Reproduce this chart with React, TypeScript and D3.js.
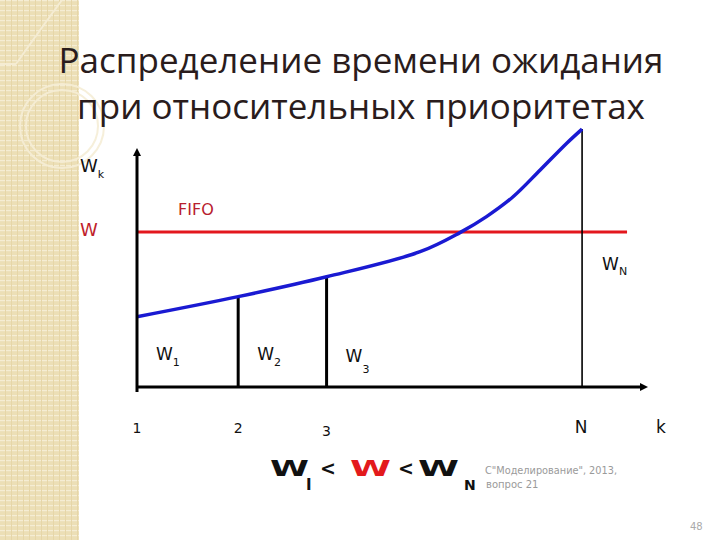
import React from 'react';
import * as d3 from 'd3';

// values (k in arbitrary units, W in arbitrary units)
const curveK = [0, 1.98, 3.71, 5.54, 6.32, 6.84, 7.36, 7.89, 8.41, 8.71];
const curveW = [2.94, 3.78, 4.61, 5.66, 6.46, 7.13, 7.96, 9.08, 10.2, 10.79];
const fifoW = 6.49;
const fifoEndK = 9.59;
const tickLabels = ['1', '2', '3', 'N'];
const tickK = [0, 1.98, 3.71, 8.71];
const dropIdx = [1, 2, 9];
const segSubs = ['1', '2', '3'];

const titleLines = ['Распределение времени ожидания', 'при относительных приоритетах'];
const noteLines = ['С"Моделирование", 2013,', 'вопрос 21'];

const W = 720, H = 540;

const App = () => {
  const x = d3.scaleLinear().domain([0, 10]).range([137, 648]);
  const y = d3.scaleLinear().domain([0, 10]).range([387, 148]);

  const pts: [number, number][] = curveK.map((k, i) => [k, curveW[i]]);
  const line = d3.line<[number, number]>()
    .x(d => x(d[0]))
    .y(d => y(d[1]))
    .curve(d3.curveCatmullRom.alpha(0.5));

  const lab = { fontFamily: 'DejaVu Sans', fill: '#111' };

  return (
    <svg width={W} height={H} style={{ position: 'absolute', left: 0, top: 0, background: '#fff' }}>
      <defs>
        <pattern id="stripes" width="6" height="5" patternUnits="userSpaceOnUse">
          <rect width="6" height="5" fill="#ecdfb6" />
          <rect y="0" width="6" height="1.2" fill="#f5edd4" />
          <rect x="5" y="0" width="1" height="5" fill="#e6d6a8" />
        </pattern>
      </defs>

      {/* decorative side strip */}
      <rect x={0} y={0} width={79} height={H} fill="url(#stripes)" />
      <g fill="none" stroke="#f6eed6" strokeWidth={2} opacity={0.9}>
        <path d="M0,64 L16,64" />
        <path d="M62,0 Q40,30 16,64" />
        <circle cx={62} cy={126} r={42} />
        <circle cx={62} cy={126} r={36} />
      </g>

      {/* title */}
      <g fontFamily="Open Sans" fontSize={35} fill="#2a1c1c" textAnchor="middle">
        {titleLines.map((t, i) => (
          <text key={i} x={361} y={73 + i * 46}>{t}</text>
        ))}
      </g>

      {/* FIFO level */}
      <line x1={x(0)} x2={x(fifoEndK)} y1={y(fifoW)} y2={y(fifoW)} stroke="#e3171d" strokeWidth={3} />

      {/* drop lines */}
      {dropIdx.map((idx, i) => (
        <line key={i} x1={x(curveK[idx])} x2={x(curveK[idx])} y1={y(curveW[idx])} y2={y(0)}
          stroke="#000" strokeWidth={i === 2 ? 1.6 : 3} />
      ))}

      {/* priority curve */}
      <path d={line(pts) || ''} fill="none" stroke="#1a1ad2" strokeWidth={3.5} />

      {/* axes */}
      <line x1={x(0)} x2={x(0)} y1={y(0) + 5} y2={y(10) + 6} stroke="#000" strokeWidth={3} />
      <path d={`M${x(0) - 4},${y(10) + 8} L${x(0)},${y(10)} L${x(0) + 4},${y(10) + 8} Z`} fill="#000" />
      <line x1={x(0)} x2={x(10) - 6} y1={y(0)} y2={y(0)} stroke="#000" strokeWidth={3} />
      <path d={`M${x(10) - 8},${y(0) - 4} L${x(10)},${y(0)} L${x(10) - 8},${y(0) + 4} Z`} fill="#000" />

      {/* tick labels */}
      {tickLabels.map((t, i) => (
        <text key={t} x={x(tickK[i]) + (t === 'N' ? -1 : 0)} y={t === '3' ? 436 : 433} textAnchor="middle"
          {...lab} fontSize={t === 'N' ? 17 : 14}>{t}</text>
      ))}
      <text x={x(10) + 13} y={433} textAnchor="middle" {...lab} fontSize={17}>k</text>

      {/* axis / series labels */}
      <text x={80} y={172} {...lab} fontSize={18}>W<tspan fontSize={11} dy={6}>k</tspan></text>
      <text x={80} y={236} {...lab} fontSize={18} fill="#c01e2b">W</text>
      <text x={178} y={215} {...lab} fontSize={16} fill="#b8202e">FIFO</text>
      <text x={x(tickK[3]) + 20} y={270} {...lab} fontSize={17}>W<tspan fontSize={11} dy={5}>N</tspan></text>
      {segSubs.map((s, i) => (
        <text key={s} x={x(tickK[i]) + 19} y={y(1.15) + (i === 2 ? 2 : 0)} {...lab} fontSize={17}>
          W<tspan fontSize={11} dy={i === 2 ? 11 : 6}>{s}</tspan>
        </text>
      ))}

      {/* formula */}
      <g fontFamily="DejaVu Sans" fontWeight="bold">
        <text x={270} y={476} fontSize={21} textLength={39} lengthAdjust="spacingAndGlyphs" fill="#111">W</text>
        <text x={306} y={490} fontSize={15} fill="#111">I</text>
        <text x={320} y={475} fontSize={19} fill="#111">&lt;</text>
        <text x={350} y={476} fontSize={21} textLength={41} lengthAdjust="spacingAndGlyphs" fill="#e31a1c">W</text>
        <text x={398} y={475} fontSize={19} fill="#111">&lt;</text>
        <text x={418} y={476} fontSize={21} textLength={41} lengthAdjust="spacingAndGlyphs" fill="#111">W</text>
        <text x={464} y={490} fontSize={14} fill="#111">N</text>
      </g>

      {/* footnote */}
      <g fontFamily="DejaVu Sans" fontSize={10} fill="#9a9a9a">
        <text x={485} y={474} textLength={132} lengthAdjust="spacingAndGlyphs">{noteLines[0]}</text>
        <text x={486} y={488}>{noteLines[1]}</text>
      </g>
      <text x={690} y={530} fontFamily="DejaVu Sans" fontSize={10} fill="#aaa">48</text>
    </svg>
  );
};

export default App;
